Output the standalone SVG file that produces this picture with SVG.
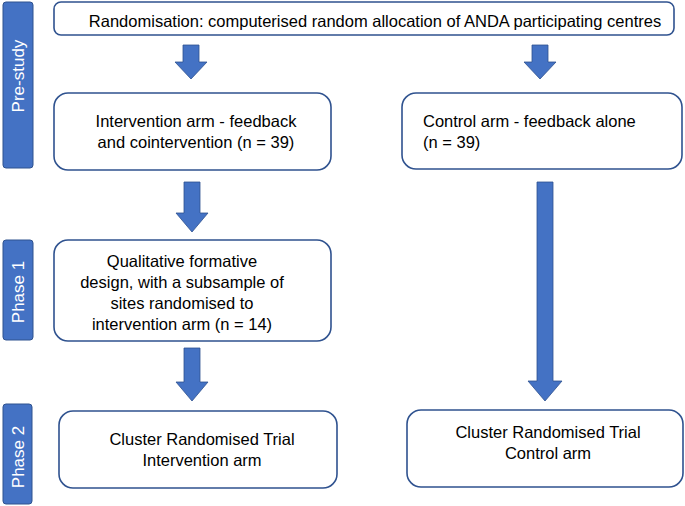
<svg xmlns="http://www.w3.org/2000/svg" width="685" height="506" viewBox="0 0 685 506">
<style>
.bg{fill:#ffffff}
.box{fill:#ffffff;stroke:#2F528F;stroke-width:1.6}
.bar{fill:#4472C4;stroke:#2F528F;stroke-width:1}
.arr{fill:#4472C4;stroke:#2F528F;stroke-width:0.8}
.t{font-family:"Liberation Sans",Arial,sans-serif;font-size:16.5px;fill:#000000}
.m{text-anchor:middle}
.lab{font-family:"Liberation Sans",Arial,sans-serif;font-size:17px;fill:#ffffff;text-anchor:middle}
</style>
<rect class="bg" x="0" y="0" width="685" height="506"/>
<g id="label-prestudy">
<rect class="bar" x="3" y="2" width="30" height="166" rx="3"/>
<text class="lab" transform="translate(24,76) rotate(-90)">Pre-study</text>
</g>
<g id="label-phase1">
<rect class="bar" x="3" y="240" width="30" height="100" rx="3"/>
<text class="lab" transform="translate(24,292) rotate(-90)">Phase 1</text>
</g>
<g id="label-phase2">
<rect class="bar" x="3" y="404" width="29" height="100" rx="3"/>
<text class="lab" transform="translate(24,457) rotate(-90)">Phase 2</text>
</g>
<g id="randomisation">
<rect class="box" x="54" y="2" width="620" height="33" rx="7"/>
<text class="t m" x="375" y="27">Randomisation: computerised random allocation of ANDA participating centres</text>
</g>
<g id="intervention-arm">
<rect class="box" x="54" y="93" width="277" height="77" rx="14"/>
<text class="t m" x="196" y="127">Intervention arm - feedback</text>
<text class="t m" x="196" y="148">and cointervention (n = 39)</text>
</g>
<g id="control-arm">
<rect class="box" x="402" y="93" width="280" height="76" rx="14"/>
<text class="t" x="423" y="127">Control arm - feedback alone</text>
<text class="t" x="423" y="148">(n = 39)</text>
</g>
<g id="qualitative">
<rect class="box" x="54" y="240" width="277" height="101" rx="14"/>
<text class="t m" x="182" y="267">Qualitative formative</text>
<text class="t m" x="182" y="288">design, with a subsample of</text>
<text class="t m" x="182" y="309">sites randomised to</text>
<text class="t m" x="182" y="330">intervention arm (n = 14)</text>
</g>
<g id="cluster-intervention">
<rect class="box" x="59" y="411" width="278" height="77" rx="14"/>
<text class="t m" x="202" y="445">Cluster Randomised Trial</text>
<text class="t m" x="202" y="466">Intervention arm</text>
</g>
<g id="cluster-control">
<rect class="box" x="407" y="410" width="276" height="77" rx="14"/>
<text class="t m" x="548" y="438">Cluster Randomised Trial</text>
<text class="t m" x="548" y="459">Control arm</text>
</g>
<g id="connectors">
<path class="arr" d="M183,45 H199 V62 H207 L191,79 L175,62 H183 Z"/>
<path class="arr" d="M532,45 H548 V62 H556 L540,79 L524,62 H532 Z"/>
<path class="arr" d="M184,182 H200 V213 H208 L192,232 L176,213 H184 Z"/>
<path class="arr" d="M184,348 H200 V382 H208 L192,401 L176,382 H184 Z"/>
<path class="arr" d="M537,182 H553 V381 H562 L545,401 L528,381 H537 Z"/>
</g>
</svg>
